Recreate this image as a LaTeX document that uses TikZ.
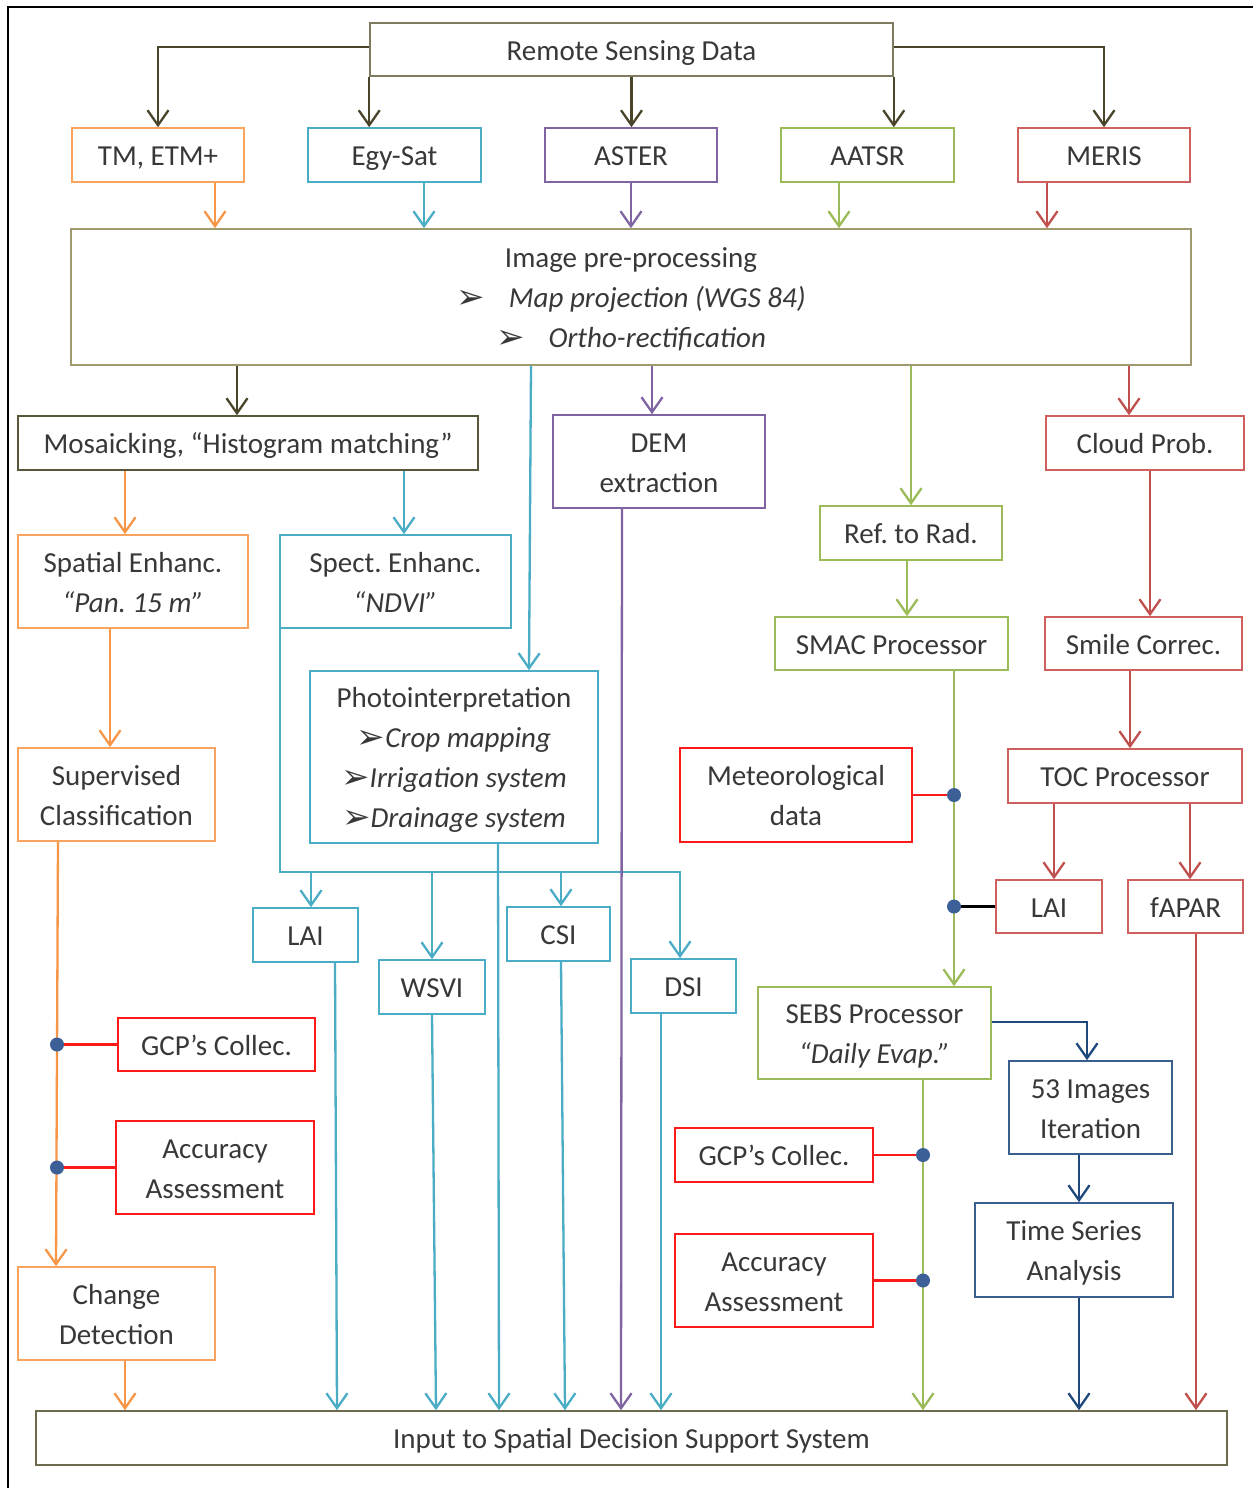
\documentclass[tikz,border=0pt]{standalone}
\usepackage{fontspec}
\setmainfont{Carlito}
\newfontfamily\symfont{DejaVu Sans}
\usetikzlibrary{arrows.meta,calc}
\frenchspacing

% palette
\definecolor{ink}{HTML}{383838}
\definecolor{olv}{HTML}{4A452A}
\definecolor{rsdline}{HTML}{7F7B5F}
\definecolor{preline}{HTML}{A09B6E}
\definecolor{mosline}{HTML}{5A5639}
\definecolor{inpline}{HTML}{6E6A4E}
\definecolor{org}{HTML}{F79646}
\definecolor{orgline}{HTML}{F9A45E}
\definecolor{blu}{HTML}{4BACC6}
\definecolor{pur}{HTML}{8064A2}
\definecolor{grn}{HTML}{9BBB59}
\definecolor{rdl}{HTML}{C0504D}
\definecolor{rdbox}{HTML}{D0605D}
\definecolor{pure}{HTML}{FF1A1A}
\definecolor{nvy}{HTML}{1F497D}
\definecolor{nvyline}{HTML}{3A5F8F}
\definecolor{dotc}{HTML}{3B5F96}

\newcommand\diagfont{\fontsize{29pt}{40pt}\selectfont}
\newcommand\arrowmark{{\symfont\fontsize{34pt}{40pt}\selectfont\raisebox{-1pt}{➢}}}
% invisible strut fixing the height of the first line and the depth of the last one
\newcommand\lnstrut{\rule[-8pt]{0pt}{37pt}}

% box given by its corners (x1,y1) and (x2,y2), y measured downwards
\newcommand\flowbox[7]{%
  \pgfmathsetmacro\fbW{#5-#3}\pgfmathsetmacro\fbH{#6-#4}%
  \pgfmathsetmacro\fbX{(#3+#5)/2}\pgfmathsetmacro\fbY{(#4+#6)/2}%
  \node[#2, minimum width=\fbW pt, minimum height=\fbH pt] (#1) at (\fbX,\fbY) {\lnstrut#7\lnstrut};}

\begin{document}
\begin{tikzpicture}[x=1pt,y=-1pt,
  box/.style={draw, line width=1.6pt, inner sep=0pt, align=center, text=ink, font=\diagfont},
  link/.style={line width=2.3pt, -{Straight Barb[length=15pt,width=21pt]}},
  plain/.style={line width=2.3pt},
  dot/.style={circle, fill=dotc, inner sep=0pt, minimum size=14pt}]
\useasboundingbox (0,0) rectangle (1253,1488);
\fill[white] (0,0) rectangle (1253,1488);

% frame
\draw[line width=1.8pt] (8,1488) -- (8,7) -- (1253,7);

% boxes
\flowbox{rsd}{box,draw=rsdline}{370}{23}{893}{76}{Remote Sensing Data}
\flowbox{tm}{box,draw=orgline}{72}{128}{244}{182}{TM, ETM+}
\flowbox{egy}{box,draw=blu}{308}{128}{481}{182}{Egy-Sat}
\flowbox{aster}{box,draw=pur}{545}{128}{717}{182}{ASTER}
\flowbox{aatsr}{box,draw=grn}{781}{128}{954}{182}{AATSR}
\flowbox{meris}{box,draw=rdbox}{1018}{128}{1190}{182}{MERIS}
\flowbox{pre}{box,draw=preline}{71}{229}{1191}{365}{Image pre-processing\\
  \arrowmark\hspace{24pt}\textit{Map projection (WGS 84)}\\
  \arrowmark\hspace{24pt}\textit{Ortho-rectification}}
\flowbox{mos}{box,draw=mosline}{18}{416}{478}{470}{Mosaicking, “Histogram matching”}
\flowbox{dem}{box,draw=pur}{553}{415}{765}{508}{DEM\\extraction}
\flowbox{cloud}{box,draw=rdbox}{1046}{416}{1244}{470}{Cloud Prob.}
\flowbox{spatial}{box,draw=orgline}{18}{535}{248}{628}{Spatial Enhanc.\\\textit{“Pan. 15 m”}}
\flowbox{spect}{box,draw=blu}{280}{535}{511}{628}{Spect. Enhanc.\\\textit{“NDVI”}}
\flowbox{ref}{box,draw=grn}{820}{506}{1002}{560}{Ref. to Rad.}
\flowbox{smac}{box,draw=grn}{775}{617}{1008}{670}{SMAC Processor}
\flowbox{smile}{box,draw=rdbox}{1045}{617}{1242}{670}{Smile Correc.}
\flowbox{photo}{box,draw=blu}{310}{671}{598}{843}{Photointerpretation\\
  \arrowmark\textit{Crop mapping}\\
  \arrowmark\textit{Irrigation system}\\
  \arrowmark\textit{Drainage system}}
\flowbox{sup}{box,draw=orgline}{18}{748}{215}{841}{Supervised\\Classification}
\flowbox{meteo}{box,draw=pure}{680}{748}{912}{842}{Meteorological\\data}
\flowbox{toc}{box,draw=rdbox}{1008}{749}{1242}{803}{TOC Processor}
\flowbox{laiL}{box,draw=blu}{253}{908}{358}{962}{LAI}
\flowbox{wsvi}{box,draw=blu}{379}{960}{485}{1014}{WSVI}
\flowbox{csi}{box,draw=blu}{507}{907}{610}{961}{CSI}
\flowbox{dsi}{box,draw=blu}{631}{959}{736}{1013}{DSI}
\flowbox{laiR}{box,draw=rdbox}{996}{880}{1102}{933}{LAI}
\flowbox{fapar}{box,draw=rdbox}{1128}{880}{1243}{933}{fAPAR}
\flowbox{sebs}{box,draw=grn}{758}{987}{991}{1079}{SEBS Processor\\\textit{“Daily Evap.”}}
\flowbox{img}{box,draw=nvyline}{1009}{1061}{1172}{1154}{53 Images\\Iteration}
\flowbox{ts}{box,draw=nvyline}{975}{1203}{1173}{1297}{Time Series\\Analysis}
\flowbox{gcpL}{box,draw=pure}{118}{1018}{315}{1071}{GCP’s Collec.}
\flowbox{accL}{box,draw=pure}{116}{1121}{314}{1214}{Accuracy\\Assessment}
\flowbox{gcpR}{box,draw=pure}{675}{1128}{873}{1182}{GCP’s Collec.}
\flowbox{accR}{box,draw=pure}{675}{1234}{873}{1327}{Accuracy\\Assessment}
\flowbox{chg}{box,draw=orgline}{18}{1267}{215}{1360}{Change\\Detection}
\flowbox{inp}{box,draw=inpline}{36}{1411}{1227}{1465}{Input to Spatial Decision Support System}

% remote sensing data to the sensors
\draw[link,olv] ([yshift=2.5pt]rsd.west) -| (tm.north);
\draw[link,olv] ([yshift=2.5pt]rsd.east) -| (meris.north);
\draw[link,olv] (rsd.south west) -- (rsd.south west |- egy.north);
\draw[link,olv] (rsd.south) -- (rsd.south |- aster.north);
\draw[link,olv] (rsd.south east) -- (rsd.south east |- aatsr.north);

% sensors to pre-processing
\draw[link,org] ([xshift=57pt]tm.south) -- ([xshift=57pt]tm.south |- pre.north);
\draw[link,blu] ([xshift=29.5pt]egy.south) -- ([xshift=29.5pt]egy.south |- pre.north);
\draw[link,pur] (aster.south) -- (aster.south |- pre.north);
\draw[link,grn] ([xshift=-28.5pt]aatsr.south) -- ([xshift=-28.5pt]aatsr.south |- pre.north);
\draw[link,rdl] ([xshift=-57pt]meris.south) -- ([xshift=-57pt]meris.south |- pre.north);

% out of pre-processing
\draw[link,olv] ([xshift=-11pt]mos.north |- pre.south) -- ([xshift=-11pt]mos.north);
\draw[link,blu] ([xshift=77pt]photo.north |- pre.south) -- ([xshift=75pt]photo.north);
\draw[link,pur] ([xshift=-7pt]dem.north |- pre.south) -- ([xshift=-7pt]dem.north);
\draw[link,grn] (ref.north |- pre.south) -- (ref.north);
\draw[link,rdl] ([xshift=-16pt]cloud.north |- pre.south) -- ([xshift=-16pt]cloud.north);

% mosaicking branches
\draw[link,org] ([xshift=-8pt]spatial.north |- mos.south) -- ([xshift=-8pt]spatial.north);
\draw[link,blu] ([xshift=8.5pt]spect.north |- mos.south) -- ([xshift=8.5pt]spect.north);

% orange chain
\draw[link,org] ([xshift=-6.5pt]sup.north |- spatial.south) -- ([xshift=-6.5pt]sup.north);
\draw[link,org] ([xshift=-58.5pt]sup.south) -- ([xshift=-60.5pt]chg.north);
\coordinate (oline) at ([xshift=-59.5pt]chg.north);
\draw[plain,pure] (gcpL.west) -- (gcpL.west -| oline);
\draw[plain,pure] (accL.west) -- (accL.west -| oline);
\node[dot] (dl1) at (gcpL.west -| oline) {};
\node[dot] (dl2) at (accL.west -| oline) {};
\draw[link,org] ([xshift=8.5pt]chg.south) -- ([xshift=8.5pt]chg.south |- inp.north);

% blue index network
\draw[link,blu] ([xshift=1pt]spect.south west) -- ++(0,243) -| ([xshift=-3.5pt]dsi.north);
\coordinate (bus) at ([xshift=1pt,yshift=-243pt]spect.south west);
\draw[link,blu] ([xshift=5.5pt]laiL.north |- bus) -- ([xshift=5.5pt]laiL.north);
\draw[link,blu] (wsvi.north |- bus) -- (wsvi.north);
\draw[link,blu] ([xshift=2.5pt]csi.north |- bus) -- ([xshift=2.5pt]csi.north);
\draw[link,blu] ([xshift=29.5pt]laiL.south) -- ([xshift=31.5pt]laiL.south |- inp.north);
\draw[link,blu] (wsvi.south) -- ([xshift=4pt]wsvi.south |- inp.north);
\draw[link,blu] ([xshift=44pt]photo.south) -- ([xshift=45pt]photo.south |- inp.north);
\draw[link,blu] ([xshift=2.5pt]csi.south) -- ([xshift=6.5pt]csi.south |- inp.north);
\draw[link,blu] ([xshift=-22.5pt]dsi.south) -- ([xshift=-22.5pt]dsi.south |- inp.north);
\draw[link,pur] ([xshift=-37pt]dem.south) -- ([xshift=-38pt]dem.south |- inp.north);

% green chain
\draw[link,grn] ([xshift=15.5pt]smac.north |- ref.south) -- ([xshift=15.5pt]smac.north);
\draw[link,grn] ([xshift=79.5pt]sebs.north |- smac.south) -- ([xshift=79.5pt]sebs.north);
\coordinate (gline) at ([xshift=79.5pt]sebs.north);
\draw[plain,pure] (meteo.east) -- (meteo.east -| gline);
\draw[plain,black] (laiR.west) -- (laiR.west -| gline);
\node[dot] (dg1) at (meteo.east -| gline) {};
\node[dot] (dg2) at (laiR.west -| gline) {};
\draw[link,grn] ([xshift=48.5pt]sebs.south) -- ([xshift=48.5pt]sebs.south |- inp.north);
\coordinate (gline2) at ([xshift=48.5pt]sebs.south);
\draw[plain,pure] (gcpR.east) -- (gcpR.east -| gline2);
\draw[plain,pure] (accR.east) -- (accR.east -| gline2);
\node[dot] (dg3) at (gcpR.east -| gline2) {};
\node[dot] (dg4) at (accR.east -| gline2) {};

% red chain
\draw[link,rdl] ([xshift=6.5pt]smile.north |- cloud.south) -- ([xshift=6.5pt]smile.north);
\draw[link,rdl] ([xshift=5pt]toc.north |- smile.south) -- ([xshift=5pt]toc.north);
\draw[link,rdl] ([xshift=5pt]laiR.north |- toc.south) -- ([xshift=5pt]laiR.north);
\draw[link,rdl] ([xshift=4.5pt]fapar.north |- toc.south) -- ([xshift=4.5pt]fapar.north);
\draw[link,rdl] ([xshift=10.5pt]fapar.south) -- ([xshift=10.5pt]fapar.south |- inp.north);

% time series chain
\draw[link,nvy] ([yshift=11pt]sebs.east) -| ([xshift=-3.5pt]img.north);
\draw[link,nvy] ([xshift=-11.5pt]img.south) -- ([xshift=-11.5pt]img.south |- ts.north);
\draw[link,nvy] ([xshift=5pt]ts.south) -- ([xshift=5pt]ts.south |- inp.north);
\end{tikzpicture}
\end{document}
